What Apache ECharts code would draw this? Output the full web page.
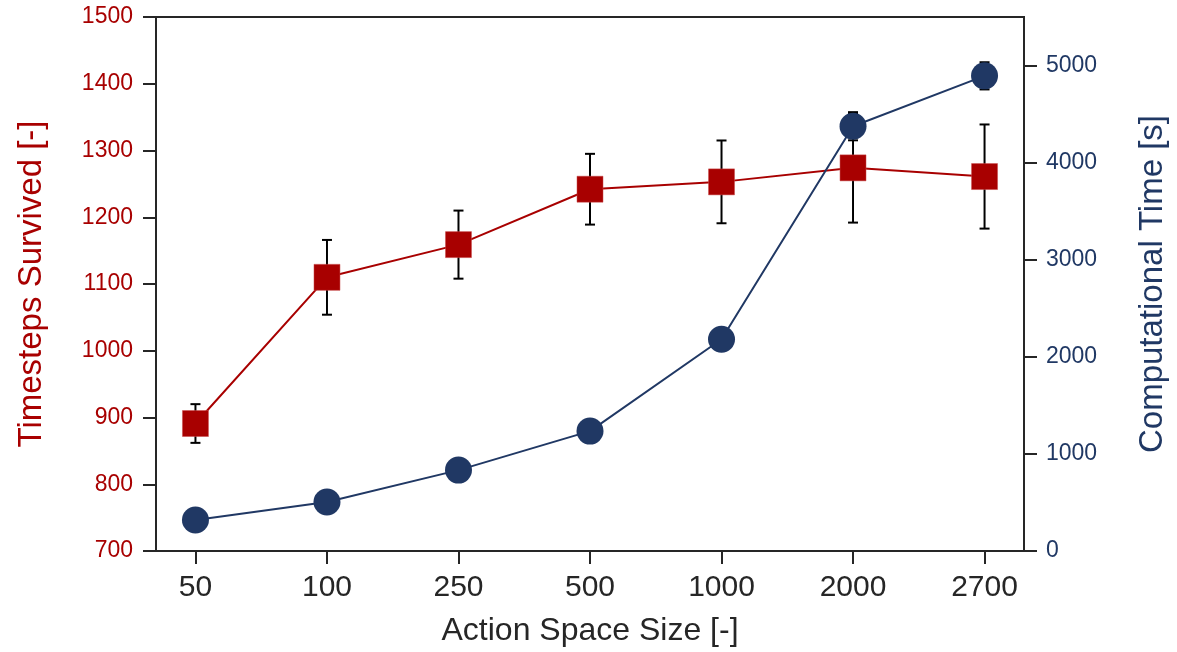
<!DOCTYPE html>
<html>
<head>
<meta charset="utf-8">
<script src="https://cdn.jsdelivr.net/npm/echarts@6/dist/echarts.min.js"></script>
<style>html,body{margin:0;padding:0;background:#fff}#c{width:1177px;height:652px}</style>
</head>
<body>
<div id="c"></div>
<script>
const categories = ['50', '100', '250', '500', '1000', '2000', '2700'];
const timesteps = [891, 1110, 1159, 1242, 1253, 1274, 1261];
const timestepsErr = [29, 56, 51, 53, 62, 82, 78];
const compTime = [319, 504, 833, 1235, 2181, 4375, 4894];
const compTimeErr = [0, 0, 0, 0, 0, 145, 140];
const leftTicks = [700, 800, 900, 1000, 1100, 1200, 1300, 1400, 1500];
const rightTicks = [0, 1000, 2000, 3000, 4000, 5000];

const RED = '#a80000', BLUE = '#203864', DARK = '#262626';
const FONT = '"Liberation Sans", Arial, sans-serif';
const idx = categories.map((c, i) => i);

function errSeries(vals, errs, yAxisIndex, z) {
  return {
    type: 'custom', yAxisIndex: yAxisIndex, z: z, silent: true,
    data: idx.map(i => [i, vals[i], errs[i]]),
    encode: { x: 0, y: 1 },
    renderItem: function (params, api) {
      const x = api.value(0), y = api.value(1), e = api.value(2);
      if (!e) return null;
      const top = api.coord([x, y + e]);
      const bot = api.coord([x, y - e]);
      const hw = 5;
      const st = { stroke: '#000', lineWidth: 2 };
      return {
        type: 'group',
        children: [
          { type: 'line', shape: { x1: top[0], y1: top[1], x2: bot[0], y2: bot[1] }, style: st },
          { type: 'line', shape: { x1: top[0] - hw, y1: top[1], x2: top[0] + hw, y2: top[1] }, style: st },
          { type: 'line', shape: { x1: bot[0] - hw, y1: bot[1], x2: bot[0] + hw, y2: bot[1] }, style: st }
        ]
      };
    }
  };
}

const chart = echarts.init(document.getElementById('c'));
chart.setOption({
  animation: false,
  textStyle: { fontFamily: FONT },
  grid: { left: 156, right: 151, top: 17, bottom: 100, show: true, borderColor: DARK, borderWidth: 2, backgroundColor: 'transparent' },
  xAxis: {
    type: 'value', min: -0.3, max: 6.3,
    splitLine: { show: false },
    axisLine: { show: true, onZero: false, lineStyle: { color: DARK, width: 2 } },
    axisTick: { show: true, customValues: idx, length: 13, lineStyle: { color: DARK, width: 2 } },
    axisLabel: { customValues: idx, formatter: v => categories[Math.round(v)], fontSize: 30, color: DARK, margin: 22, fontFamily: FONT },
    name: 'Action Space Size [-]', nameLocation: 'middle', nameGap: 64,
    nameTextStyle: { fontSize: 32, color: DARK, fontFamily: FONT }
  },
  yAxis: [
    {
      type: 'value', min: 700, max: 1500, interval: 100, position: 'left',
      splitLine: { show: false },
      axisLine: { show: true, onZero: false, lineStyle: { color: DARK, width: 2 } },
      axisTick: { show: true, customValues: leftTicks, length: 13, lineStyle: { color: DARK, width: 2 } },
      axisLabel: { customValues: leftTicks, formatter: v => String(v), fontSize: 23, color: RED, margin: 23, fontFamily: FONT },
      name: 'Timesteps Survived [-]', nameLocation: 'middle', nameGap: 108,
      nameTextStyle: { fontSize: 33, color: RED, fontFamily: FONT }
    },
    {
      type: 'value', min: 0, max: 5500, position: 'right',
      splitLine: { show: false },
      axisLine: { show: true, onZero: false, lineStyle: { color: DARK, width: 2 } },
      axisTick: { show: true, customValues: rightTicks, length: 13, lineStyle: { color: DARK, width: 2 } },
      axisLabel: { customValues: rightTicks, formatter: v => String(v), fontSize: 23, color: BLUE, margin: 22, fontFamily: FONT },
      name: 'Computational Time [s]', nameLocation: 'middle', nameGap: 112,
      nameTextStyle: { fontSize: 33, color: BLUE, fontFamily: FONT }
    }
  ],
  series: [
    errSeries(timesteps, timestepsErr, 0, 2),
    {
      type: 'line', yAxisIndex: 0, z: 3,
      data: idx.map(i => [i, timesteps[i]]),
      symbol: 'rect', symbolSize: 26,
      lineStyle: { color: RED, width: 2 },
      itemStyle: { color: RED, borderColor: '#c84a4a', borderWidth: 0.5 }
    },
    errSeries(compTime, compTimeErr, 1, 4),
    {
      type: 'line', yAxisIndex: 1, z: 5,
      data: idx.map(i => [i, compTime[i]]),
      symbol: 'circle', symbolSize: 27,
      lineStyle: { color: BLUE, width: 2 },
      itemStyle: { color: BLUE }
    }
  ]
});
</script>
</body>
</html>
